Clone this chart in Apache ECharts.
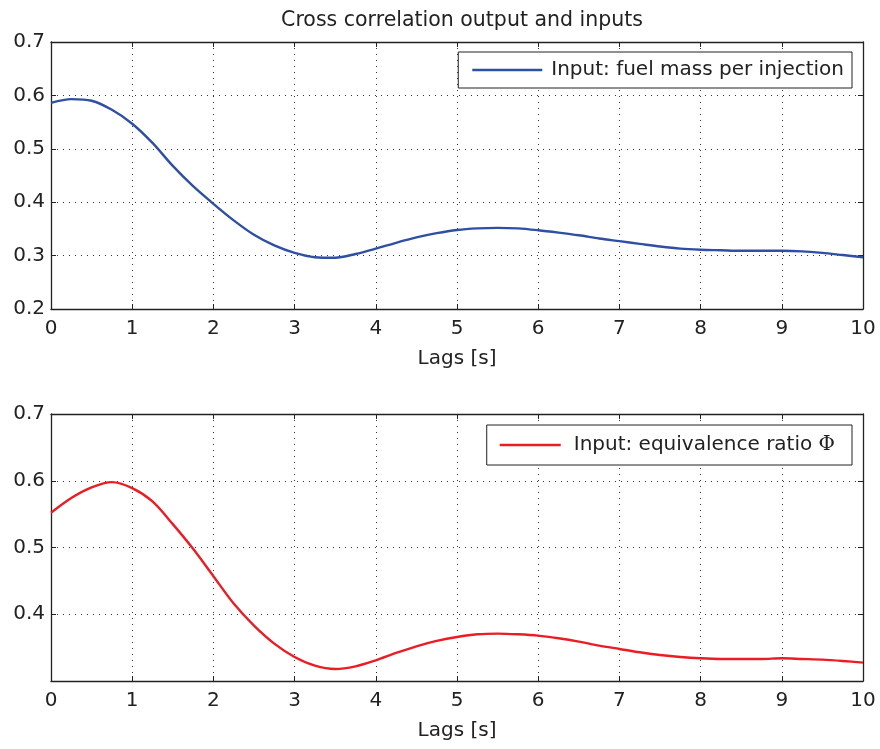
<!DOCTYPE html>
<html>
<head>
<meta charset="utf-8">
<script src="https://cdn.jsdelivr.net/npm/echarts@6/dist/echarts.min.js"></script>
<style>html,body{margin:0;padding:0;background:#fff;}#c{width:880px;height:749px;}</style>
</head>
<body>
<div id="c"></div>
<script>
const titleText = 'Cross correlation output and inputs';
const xName = 'Lags [s]';
const name1 = 'Input: fuel mass per injection';
const name2 = 'Input: equivalence ratio Φ';

const lags = [0, 0.25, 0.5, 0.75, 1, 1.25, 1.5, 1.75, 2, 2.25, 2.5, 2.75, 3, 3.25, 3.5, 3.75,
              4, 4.25, 4.5, 4.75, 5, 5.25, 5.5, 5.75, 6, 6.25, 6.5, 6.75,
              7, 7.25, 7.5, 7.75, 8, 8.25, 8.5, 8.75, 9, 9.25, 9.5, 9.75, 10];
const fuel = [0.586, 0.593, 0.590, 0.573, 0.547, 0.511, 0.468, 0.430, 0.397, 0.366, 0.339, 0.319, 0.305, 0.297, 0.296, 0.303,
              0.313, 0.324, 0.334, 0.342, 0.348, 0.351, 0.352, 0.351, 0.3475, 0.343, 0.338, 0.332,
              0.327, 0.322, 0.317, 0.313, 0.311, 0.310, 0.309, 0.309, 0.309, 0.308, 0.305, 0.301, 0.297];
const phi  = [0.552, 0.574, 0.590, 0.598, 0.589, 0.569, 0.535, 0.498, 0.457, 0.416, 0.383, 0.356, 0.336, 0.323, 0.318, 0.322,
              0.331, 0.342, 0.352, 0.360, 0.366, 0.370, 0.371, 0.370, 0.368, 0.364, 0.359, 0.353,
              0.348, 0.343, 0.339, 0.336, 0.334, 0.333, 0.333, 0.333, 0.334, 0.333, 0.332, 0.330, 0.3275];

const font = 'DejaVu Sans, Liberation Sans, Arial, sans-serif';
const ink = '#222';
const dotted = { color: '#333', width: 1, type: [1, 5] };

function xAx(gi, pos, show) {
  return {
    type: 'value', gridIndex: gi, position: pos, min: 0, max: 10, interval: 1,
    axisLine: { show: true, onZero: false, lineStyle: { color: ink, width: 1.3 } },
    axisTick: { show: true, inside: true, length: 5, lineStyle: { color: ink } },
    axisLabel: { show: show, color: ink, fontSize: 20, fontFamily: font, margin: 10 },
    splitLine: { show: show, lineStyle: dotted },
    name: show ? xName : '', nameLocation: 'middle', nameGap: 40,
    nameTextStyle: { color: ink, fontSize: 20, fontFamily: font }
  };
}
function yAx(gi, pos, show, min, hideMin) {
  return {
    type: 'value', gridIndex: gi, position: pos, min: min, max: 0.7, interval: 0.1,
    axisLine: { show: true, onZero: false, lineStyle: { color: ink, width: 1.3 } },
    axisTick: { show: true, inside: true, length: 5, lineStyle: { color: ink } },
    axisLabel: { show: show, color: ink, fontSize: 20, fontFamily: font, margin: 6,
      showMinLabel: !hideMin, formatter: v => v.toFixed(1) },
    splitLine: { show: show, lineStyle: dotted }
  };
}

const chart = echarts.init(document.getElementById('c'));
chart.setOption({
  animation: false,
  backgroundColor: '#fff',
  title: { text: titleText, left: 457, textAlign: 'center', top: 5,
    textStyle: { color: ink, fontSize: 20.5, fontWeight: 'normal', fontFamily: font } },
  grid: [
    { left: 51, right: 17, top: 42, height: 267 },
    { left: 51, right: 17, top: 414, height: 267 }
  ],
  xAxis: [xAx(0, 'bottom', true), xAx(0, 'top', false), xAx(1, 'bottom', true), xAx(1, 'top', false)],
  yAxis: [yAx(0, 'left', true, 0.2, false), yAx(0, 'right', false, 0.2, false),
          yAx(1, 'left', true, 0.3, true), yAx(1, 'right', false, 0.3, true)],
  legend: [
    { data: [name1], right: 28, top: 52, orient: 'vertical', icon: 'rect',
      backgroundColor: '#fff', borderColor: ink, borderWidth: 1,
      padding: [8, 8, 8, 14], itemWidth: 70, itemHeight: 2.5,
      textStyle: { color: ink, fontSize: 20, fontFamily: font, padding: [0, 0, 0, 4] } },
    { data: [name2], right: 28, top: 425, orient: 'vertical', icon: 'rect',
      backgroundColor: '#fff', borderColor: ink, borderWidth: 1,
      padding: [10, 17, 10, 13], itemWidth: 61, itemHeight: 2.5,
      formatter: n => n.replace('Φ', '{phi|Φ}'),
      textStyle: { color: ink, fontSize: 20, fontFamily: font, padding: [0, 0, 0, 8],
        rich: { phi: { fontFamily: 'DejaVu Serif, Liberation Serif, serif', fontSize: 20, color: ink } } } }
  ],
  series: [
    { name: name1, type: 'line', xAxisIndex: 0, yAxisIndex: 0, smooth: 0.3, symbol: 'none',
      lineStyle: { color: '#2f4fa3', width: 2.4 }, itemStyle: { color: '#2f4fa3' },
      data: lags.map((x, i) => [x, fuel[i]]) },
    { name: name2, type: 'line', xAxisIndex: 2, yAxisIndex: 2, smooth: 0.3, symbol: 'none',
      lineStyle: { color: '#ec1c24', width: 2.4 }, itemStyle: { color: '#ec1c24' },
      data: lags.map((x, i) => [x, phi[i]]) }
  ]
});
</script>
</body>
</html>
